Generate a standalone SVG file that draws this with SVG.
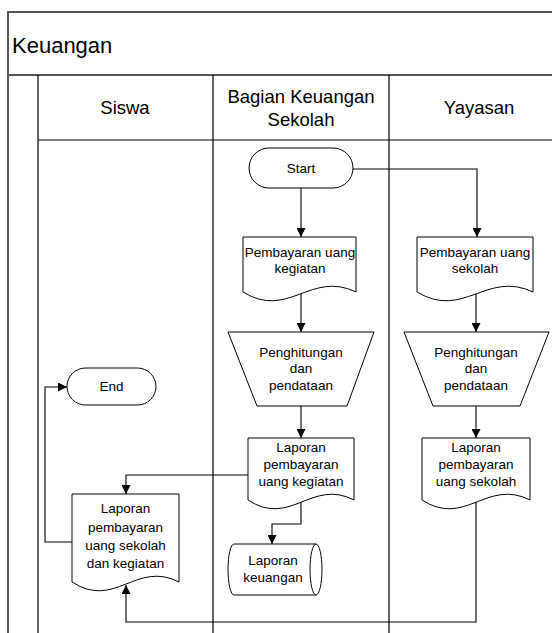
<svg xmlns="http://www.w3.org/2000/svg" width="552" height="633" viewBox="0 0 552 633">
<defs>
<marker id="ah" markerUnits="userSpaceOnUse" markerWidth="9" markerHeight="9" refX="9" refY="4.5" orient="auto">
<path d="M0,0 L9,4.5 L0,9 Z" fill="#000"/>
</marker>
<style>
.frame{fill:none;stroke:#555;stroke-width:2}
.lane{fill:none;stroke:#000;stroke-width:1.2}
.shape{fill:#fff;stroke:#000;stroke-width:1}
.conn{fill:none;stroke:#000;stroke-width:1.1;marker-end:url(#ah)}
text{font-family:"Liberation Sans",Arial,sans-serif;fill:#000}
.t{font-size:13.5px;text-anchor:middle}
.h{font-size:18.5px;text-anchor:middle}
.title{font-size:22px}
</style>
</defs>
<rect width="552" height="633" fill="#fff"/>
<g id="pool">
<path class="frame" d="M8,633 V12 H552 M8,75 H552"/>
<path class="lane" d="M38,75 V633 M213,75 V633 M389,75 V633 M38,140 H552"/>
<text class="title" x="12" y="53">Keuangan</text>
<text class="h" x="125" y="114">Siswa</text>
<text class="h" x="301" y="103">Bagian Keuangan</text>
<text class="h" x="301" y="126">Sekolah</text>
<text class="h" x="479" y="114">Yayasan</text>
</g>
<g id="connectors">
<path class="conn" d="M301,188 V237"/>
<path class="conn" d="M353,169 H477 V237"/>
<path class="conn" d="M301,294 V332"/>
<path class="conn" d="M476,294 V332"/>
<path class="conn" d="M301,406 V438"/>
<path class="conn" d="M476,406 V438"/>
<path class="conn" d="M248,475 H126 V494"/>
<path class="conn" d="M301,502 V524 H272 V544"/>
<path class="conn" d="M476,502 V622 H126 V585"/>
<path class="conn" d="M72,542 H45 V387 H67"/>
</g>
<g id="start">
<rect class="shape" x="249" y="148" width="104" height="40" rx="20"/>
<text class="t" x="301" y="173">Start</text>
</g>
<g id="pembayaran-kegiatan">
<path class="shape" d="M243,237 H356 V292 C310.8,270 288.2,320 243,292 Z"/>
<text class="t" x="300" y="257">Pembayaran uang</text>
<text class="t" x="300" y="273">kegiatan</text>
</g>
<g id="pembayaran-sekolah">
<path class="shape" d="M417,237 H533 V292 C486.6,270 463.4,320 417,292 Z"/>
<text class="t" x="475" y="257">Pembayaran uang</text>
<text class="t" x="475" y="273">sekolah</text>
</g>
<g id="penghitungan-bagian">
<path class="shape" d="M228,332 H374 L347,406 H257 Z"/>
<text class="t" x="301" y="357">Penghitungan</text>
<text class="t" x="301" y="373">dan</text>
<text class="t" x="301" y="390">pendataan</text>
</g>
<g id="penghitungan-yayasan">
<path class="shape" d="M404,332 H549 L520,406 H433 Z"/>
<text class="t" x="476" y="357">Penghitungan</text>
<text class="t" x="476" y="373">dan</text>
<text class="t" x="476" y="390">pendataan</text>
</g>
<g id="laporan-kegiatan">
<path class="shape" d="M248,438 H354 V500 C311.6,478 290.4,528 248,500 Z"/>
<text class="t" x="301" y="452">Laporan</text>
<text class="t" x="301" y="469">pembayaran</text>
<text class="t" x="301" y="486">uang kegiatan</text>
</g>
<g id="laporan-sekolah">
<path class="shape" d="M422,438 H530 V500 C486.8,478 465.2,528 422,500 Z"/>
<text class="t" x="476" y="452">Laporan</text>
<text class="t" x="476" y="469">pembayaran</text>
<text class="t" x="476" y="486">uang sekolah</text>
</g>
<g id="laporan-siswa">
<path class="shape" d="M72,494 H179 V582 C136.2,560 114.8,610 72,582 Z"/>
<text class="t" x="125.5" y="513">Laporan</text>
<text class="t" x="125.5" y="531.5">pembayaran</text>
<text class="t" x="125.5" y="550">uang sekolah</text>
<text class="t" x="125.5" y="568">dan kegiatan</text>
</g>
<g id="laporan-keuangan">
<path class="shape" d="M234,544 A6,25.5 0 0 0 234,595 H316 A6,25.5 0 0 0 316,544 Z"/>
<path class="shape" d="M316,544 A6,25.5 0 0 0 316,595" fill="none"/>
<text class="t" x="273" y="565">Laporan</text>
<text class="t" x="273" y="582">keuangan</text>
</g>
<g id="end">
<rect class="shape" x="67" y="368" width="89" height="37" rx="18.5"/>
<text class="t" x="111.5" y="391">End</text>
</g>
</svg>
